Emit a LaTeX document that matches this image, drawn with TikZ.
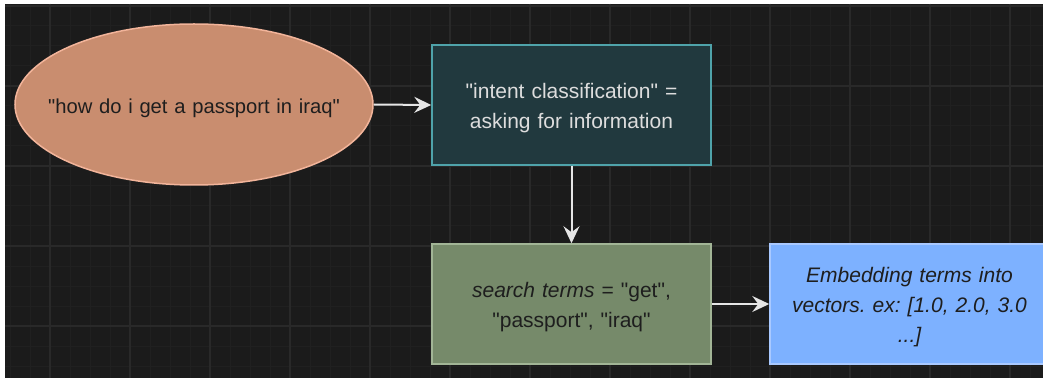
\documentclass[tikz,border=0pt]{standalone}
\usepackage{fontspec}
\setmainfont{Liberation Sans}[Ligatures=TeXOff]
\usetikzlibrary{shapes.geometric,arrows.meta}

\definecolor{canvas}{HTML}{1B1B1B}
\definecolor{gridminor}{HTML}{202020}
\definecolor{gridmajor}{HTML}{292929}
\definecolor{queryfill}{HTML}{C98D6F}
\definecolor{querydraw}{HTML}{F2B49A}
\definecolor{intentfill}{HTML}{21393E}
\definecolor{intentdraw}{HTML}{4FA3AA}
\definecolor{termsfill}{HTML}{768A6A}
\definecolor{termsdraw}{HTML}{A2B596}
\definecolor{embedfill}{HTML}{7DB1FF}
\definecolor{embeddraw}{HTML}{A9C9FF}
\definecolor{darktext}{HTML}{1E1E1E}
\definecolor{lighttext}{HTML}{DDDDDD}
\definecolor{linkcol}{HTML}{E6E6E6}

\tikzset{
  label font/.style={font=\fontsize{21}{30}\selectfont\frenchspacing, align=center,
    inner sep=0pt, text width=262pt},
  % every shape carries a centred label, set a little below the middle
  querynode/.style={ellipse, draw=querydraw, fill=queryfill, line width=1.5pt,
    minimum width=358pt, minimum height=161pt, inner sep=0pt,
    label={[label font, font=\fontsize{20.2}{30}\selectfont, text width=340pt,
      text=darktext, yshift=-3.5pt]center:#1}},
  boxnode/.style={rectangle, line width=1.5pt, minimum width=279pt,
    minimum height=120pt, inner sep=0pt},
  intentbox/.style={boxnode, draw=intentdraw, fill=intentfill,
    label={[label font, text=lighttext, yshift=-3.5pt]center:#1}},
  termsbox/.style={boxnode, draw=termsdraw, fill=termsfill,
    label={[label font, text=darktext, yshift=-3.5pt]center:#1}},
  embedbox/.style={boxnode, draw=embeddraw, fill=embedfill,
    label={[label font, text=darktext, yshift=-3.5pt]center:#1}},
  link/.style={draw=linkcol, line width=2pt,
    -{Stealth[length=17pt, width=16pt, inset=6pt]}},
}

\begin{document}
\begin{tikzpicture}[x=1pt, y=-1pt]
  % page and dark canvas
  \useasboundingbox (0,0) rectangle (1043,379);
  \fill[white] (0,0) rectangle (1043,379);
  \fill[canvas] (5,4) rectangle (1043,378);

  % background grid
  \begin{scope}
    \clip (5,4) rectangle (1043,378);
    \foreach \gx in {10,30,...,1050} \draw[gridminor, line width=1pt] (\gx,4) -- (\gx,378);
    \foreach \gy in {6,26,...,386} \draw[gridminor, line width=1pt] (5,\gy) -- (1043,\gy);
    \foreach \gx in {50,130,...,1050} \draw[gridmajor, line width=1.2pt] (\gx,4) -- (\gx,378);
    \foreach \gy in {6,86,...,386} \draw[gridmajor, line width=1.2pt] (5,\gy) -- (1043,\gy);
  \end{scope}

  % flow nodes
  \node[querynode={"how do i get a passport in iraq"}] (query) at (194,104.5) {};
  \node[intentbox={"intent classification" =\\asking for information}] (intent) at (571.5,105) {};
  \node[termsbox={\textit{search terms} = "get",\\"passport", "iraq"}] (terms) at (571.5,304) {};
  \node[embedbox={\itshape Embedding terms into\\vectors. ex: [1.0, 2.0, 3.0\\...]}] (embed) at (909.5,304) {};

  % connectors
  \draw[link] (query.east) -- (intent.west);
  \draw[link] (intent.south) -- (terms.north);
  \draw[link] (terms.east) -- (embed.west);
\end{tikzpicture}
\end{document}
